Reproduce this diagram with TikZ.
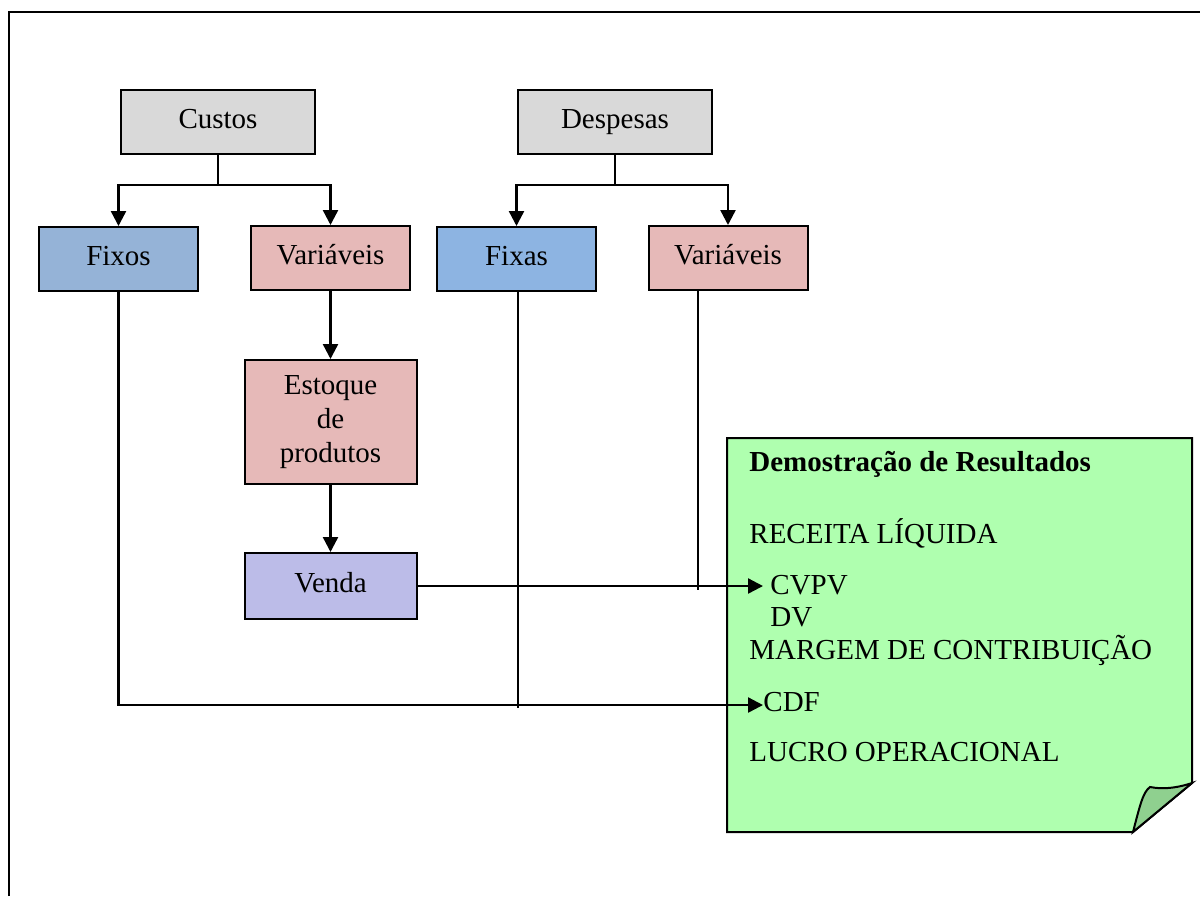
\documentclass[tikz,border=0pt]{standalone}
\usepackage{fontspec}
\setmainfont{Liberation Serif}
\usetikzlibrary{arrows.meta}

\definecolor{cinza}{HTML}{D9D9D9}
\definecolor{azul1}{HTML}{95B3D7}
\definecolor{azul2}{HTML}{8DB4E2}
\definecolor{rosa}{HTML}{E6B9B8}
\definecolor{lilas}{HTML}{BCBCE8}
\definecolor{verde}{HTML}{AFFFAF}
\definecolor{verdeesc}{HTML}{8FD08F}

\begin{document}
\begin{tikzpicture}[x=0.5pt, y=-0.5pt, auto, node distance={82pt},
  main/.style = {draw, rectangle, line width=1pt, inner sep=0pt, align=center,
    text height=0.68em, text depth=0.08em, font=\fontsize{14.5}{16.8}\selectfont},
  item/.style = {inner sep=0pt, anchor=west, text height=0.66em, text depth=0pt,
    font=\fontsize{14.5}{16.8}\selectfont},
  seta/.style = {-{Triangle[length=7.5pt,width=7.5pt]}, line width=1.2pt},
  fina/.style = {line width=0.7pt}]

\useasboundingbox (0,0) rectangle (1200,896);
\draw[line width=1.2pt] (9,896) -- (9,12) -- (1200,12);

\node[main, fill=cinza, minimum width=97pt, minimum height=32pt] (1) at (218,122) {Custos};
\node[main, fill=cinza, minimum width=97pt, minimum height=32pt] (2) at (615,122) {Despesas};
\node[main, fill=azul1, minimum width=79.5pt, minimum height=32pt] (3) at (118.5,259) {Fixos};
\node[main, fill=rosa, minimum width=79.5pt, minimum height=32pt] (4) at (330.5,258) {Variáveis};
\node[main, fill=azul2, minimum width=79.5pt, minimum height=32pt] (5) at (516.5,259) {Fixas};
\node[main, fill=rosa, minimum width=79.5pt, minimum height=32pt] (6) at (728,258) {Variáveis};
\node[main, fill=rosa, minimum width=86pt, minimum height=62pt, text height=, text depth=] (7) [below of=4] {Estoque\\de\\produtos};
\node[main, fill=lilas, minimum width=86pt, minimum height=33pt] (8) [below of=7] {Venda};

\draw[line width=1pt, fill=verde] (727,438) -- (1192,438) -- (1192,783) -- (1133,832) -- (727,832) -- cycle;
\draw[line width=1pt, fill=verdeesc] (1133,832) .. controls (1140,805) and (1143,792) .. (1150,787)
  .. controls (1165,790) and (1180,787) .. (1192,783) -- cycle;

\node[item, font=\fontsize{14.5}{16.8}\selectfont\bfseries] (titulo) at (749,465) {Demostração de Resultados};
\node[item] (receita) at (749,537) {RECEITA LÍQUIDA};
\node[item] (cvpv) at (770,588) {CVPV};
\node[item] (dv) at (770,620) {DV};
\node[item] (margem) at (749,653) {MARGEM DE CONTRIBUIÇÃO};
\node[item] (cdf) at (763,705) {CDF};
\node[item] (lucro) at (749,755) {LUCRO OPERACIONAL};

\coordinate (c1) at (218,185);
\coordinate (c2) at (615,185);
\coordinate (f5) at (518,708);
\coordinate (f6) at (698,590);

\draw[fina] (1) -- (c1);
\draw[seta] (c1) -| (3);
\draw[seta] (c1) -| (4);
\draw[fina] (2) -- (c2);
\draw[seta] (c2) -| (5);
\draw[seta] (c2) -| (6);
\draw[seta] (4) -- (7);
\draw[seta] (7) -- (8);
\draw[fina] (5.south -| f5) -- (f5);
\draw[fina] (6.south -| f6) -- (f6);
\draw[seta, shorten >=3.5pt] (8.east) -- (8.east -| cvpv.west);
\draw[seta] (3) |- (cdf);

\end{tikzpicture}
\end{document}
